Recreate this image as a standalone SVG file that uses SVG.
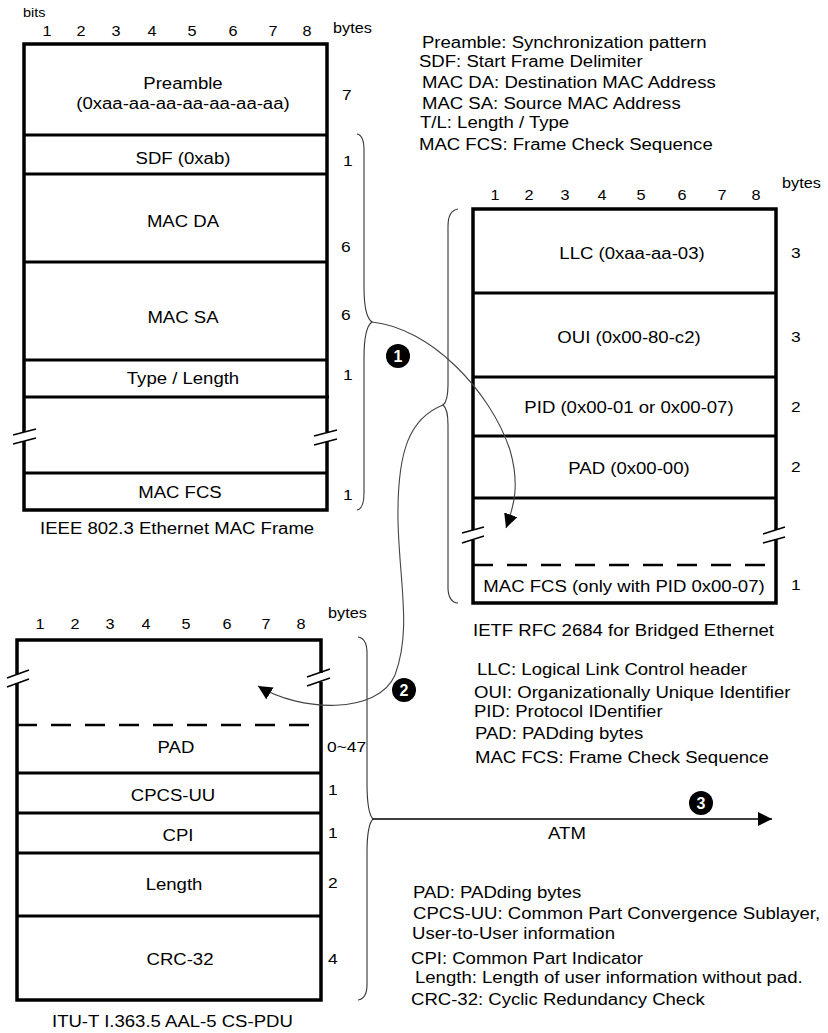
<svg xmlns="http://www.w3.org/2000/svg" width="828" height="1033" viewBox="0 0 828 1033">
<style>
  text { font-family: "Liberation Sans", Arial, sans-serif; fill: #000; transform-box: fill-box; transform: scaleX(1.16); transform-origin: left center; }
  .mid { text-anchor: middle; transform-origin: center; font-size: 16px; }
  .lbl { font-size: 16px; }
  .num { text-anchor: middle; transform-origin: center; font-size: 14px; }
  .cnt { font-size: 15px; }
  .unit { font-size: 14px; }
  .bits { font-size: 12.5px; }
  .badge-t { font-size: 16px; font-weight: bold; fill: #fff; text-anchor: middle; transform: none; }
  .outer { fill: none; stroke: #000; stroke-width: 3.5; stroke-linejoin: miter; }
  .row { fill: none; stroke: #000; stroke-width: 3; }
  .dash { fill: none; stroke: #000; stroke-width: 2.5; stroke-dasharray: 20 14; }
  .brk { fill: none; stroke: #000; stroke-width: 1.5; }
  .brace { fill: none; stroke: #333; stroke-width: 1.1; }
  .curve { fill: none; stroke: #444; stroke-width: 1.1; }
  .atm { fill: none; stroke: #000; stroke-width: 1.5; }
  .badge { fill: #000; }
</style>
<defs>
  <marker id="ah" viewBox="0 0 14 14" refX="14" refY="7" markerWidth="14" markerHeight="14" markerUnits="userSpaceOnUse" orient="auto">
    <path d="M0,0 L14,7 L0,14 z" fill="#000"/>
  </marker>
</defs>

<g id="frame-ieee">
  <text class="bits" x="23" y="17">bits</text>
  <text class="num" x="47" y="36">1</text>
  <text class="num" x="81" y="36">2</text>
  <text class="num" x="116" y="36">3</text>
  <text class="num" x="152" y="36">4</text>
  <text class="num" x="192" y="36">5</text>
  <text class="num" x="233" y="36">6</text>
  <text class="num" x="273" y="36">7</text>
  <text class="num" x="307" y="36">8</text>
  <text class="unit" x="333" y="33">bytes</text>
  <path class="outer" d="M24,432 V44 H327 V432 M327,442 V510 H24 V441"/>
  <path class="row" d="M24,135 H327 M24,174 H327 M24,262 H327 M24,360 H327 M24,397 H329 M24,473 H327"/>
  <path class="brk" d="M13,435 L36,429 M13,444 L36,438 M314,436 L337,430 M314,445 L337,439"/>
  <text class="mid" x="183" y="89">Preamble</text>
  <text class="mid" x="183" y="109">(0xaa-aa-aa-aa-aa-aa-aa)</text>
  <text class="mid" x="183" y="164">SDF (0xab)</text>
  <text class="mid" x="183" y="227">MAC DA</text>
  <text class="mid" x="183" y="323">MAC SA</text>
  <text class="mid" x="183" y="384">Type / Length</text>
  <text class="mid" x="180" y="498">MAC FCS</text>
  <text class="cnt" x="342" y="100">7</text>
  <text class="cnt" x="343" y="166">1</text>
  <text class="cnt" x="341" y="252">6</text>
  <text class="cnt" x="341" y="320">6</text>
  <text class="cnt" x="343" y="380">1</text>
  <text class="cnt" x="343" y="500">1</text>
  <text class="lbl" x="40" y="534">IEEE 802.3 Ethernet MAC Frame</text>
</g>

<g id="legend-ieee">
  <text class="lbl" x="422" y="48">Preamble: Synchronization pattern</text>
  <text class="lbl" x="419" y="67">SDF: Start Frame Delimiter</text>
  <text class="lbl" x="422" y="88">MAC DA: Destination MAC Address</text>
  <text class="lbl" x="422" y="109">MAC SA: Source MAC Address</text>
  <text class="lbl" x="420" y="128">T/L: Length / Type</text>
  <text class="lbl" x="419" y="150">MAC FCS: Frame Check Sequence</text>
</g>

<g id="frame-rfc2684">
  <text class="num" x="495" y="200">1</text>
  <text class="num" x="529" y="200">2</text>
  <text class="num" x="565" y="200">3</text>
  <text class="num" x="602" y="200">4</text>
  <text class="num" x="641" y="200">5</text>
  <text class="num" x="682" y="200">6</text>
  <text class="num" x="722" y="200">7</text>
  <text class="num" x="756" y="200">8</text>
  <text class="unit" x="782" y="188">bytes</text>
  <path class="outer" d="M473,530 V209 H776 V530 M776,539 V603 H473 V540"/>
  <path class="row" d="M473,293 H776 M473,377 H776 M473,436 H776 M473,498 H776"/>
  <path class="dash" d="M473,565 H776"/>
  <path class="brk" d="M462,533 L484,527 M462,543 L484,536 M763,534 L785,527 M763,543 L785,537"/>
  <text class="mid" x="632" y="259">LLC (0xaa-aa-03)</text>
  <text class="mid" x="629" y="343">OUI (0x00-80-c2)</text>
  <text class="mid" x="629" y="413">PID (0x00-01 or 0x00-07)</text>
  <text class="mid" x="629" y="474">PAD (0x00-00)</text>
  <text class="mid" x="624" y="592">MAC FCS (only with PID 0x00-07)</text>
  <text class="cnt" x="791" y="258">3</text>
  <text class="cnt" x="791" y="342">3</text>
  <text class="cnt" x="791" y="412">2</text>
  <text class="cnt" x="791" y="472">2</text>
  <text class="cnt" x="791" y="590">1</text>
  <text class="lbl" x="473" y="636">IETF RFC 2684 for Bridged Ethernet</text>
</g>

<g id="legend-rfc2684">
  <text class="lbl" x="477" y="675">LLC: Logical Link Control header</text>
  <text class="lbl" x="474" y="698">OUI: Organizationally Unique Identifier</text>
  <text class="lbl" x="474" y="717">PID: Protocol IDentifier</text>
  <text class="lbl" x="475" y="739">PAD: PADding bytes</text>
  <text class="lbl" x="475" y="763">MAC FCS: Frame Check Sequence</text>
</g>

<g id="frame-aal5">
  <text class="num" x="40" y="629">1</text>
  <text class="num" x="75" y="629">2</text>
  <text class="num" x="110" y="629">3</text>
  <text class="num" x="146" y="629">4</text>
  <text class="num" x="186" y="629">5</text>
  <text class="num" x="227" y="629">6</text>
  <text class="num" x="266" y="629">7</text>
  <text class="num" x="301" y="629">8</text>
  <text class="unit" x="328" y="618">bytes</text>
  <path class="outer" d="M17,674 V640 H321 V673 M321,682 V1000 H17 V683"/>
  <path class="dash" d="M17,725 H321"/>
  <path class="row" d="M17,773 H321 M17,813 H321 M17,853 H321 M17,916 H321"/>
  <path class="brk" d="M7,678 L29,670 M7,687 L29,679 M307,677 L330,669 M307,686 L330,678"/>
  <text class="mid" x="176" y="753">PAD</text>
  <text class="mid" x="173" y="801">CPCS-UU</text>
  <text class="mid" x="178" y="841">CPI</text>
  <text class="mid" x="174" y="890">Length</text>
  <text class="mid" x="180" y="965">CRC-32</text>
  <text class="cnt" x="327" y="752">0~47</text>
  <text class="cnt" x="328" y="795">1</text>
  <text class="cnt" x="328" y="838">1</text>
  <text class="cnt" x="328" y="888">2</text>
  <text class="cnt" x="328" y="964">4</text>
  <text class="lbl" x="52" y="1027">ITU-T I.363.5 AAL-5 CS-PDU</text>
</g>

<g id="legend-aal5">
  <text class="lbl" x="413" y="898">PAD: PADding bytes</text>
  <text class="lbl" x="413" y="919">CPCS-UU: Common Part Convergence Sublayer,</text>
  <text class="lbl" x="412" y="939">User-to-User information</text>
  <text class="lbl" x="411" y="964">CPI: Common Part Indicator</text>
  <text class="lbl" x="415" y="983">Length: Length of user information without pad.</text>
  <text class="lbl" x="411" y="1005">CRC-32: Cyclic Redundancy Check</text>
</g>

<g id="connectors">
  <path id="brace-ieee" class="brace" d="M357,134 C362,135 364,140 364,150 L364,287 C364,306 366,318 372,322 C366,326 364,338 364,358 L364,493 C364,503 362,509 357,510"/>
  <path id="brace-rfc2684" class="brace" d="M458,209 C452,210 448,216 448,226 L448,385 C448,396 447,402 443,405 C447,408 448,414 448,425 L448,588 C448,597 452,603 458,603"/>
  <path id="brace-aal5" class="brace" d="M358,637 C364,638 367,644 367,653 L367,783 C367,802 369,815 373,819 C369,823 367,836 367,853 L367,985 C367,994 364,999 358,1000"/>
  <path id="arrow-1" class="curve" marker-end="url(#ah)" d="M372,322 C430,328 490,390 510,450 C520,485 514,506 506,528"/>
  <path id="arrow-2" class="curve" marker-end="url(#ah)" d="M443,405 C410,418 397,450 398,520 C399,580 412,630 395,675 C378,715 300,712 258,686"/>
  <path id="arrow-atm" class="atm" marker-end="url(#ah)" d="M373,819 H772"/>
  <text class="mid" x="567" y="839">ATM</text>
</g>

<g id="badge-1">
  <circle class="badge" cx="398" cy="356" r="12"/>
  <text class="badge-t" x="398" y="362">1</text>
</g>
<g id="badge-2">
  <circle class="badge" cx="404" cy="690" r="12"/>
  <text class="badge-t" x="404" y="696">2</text>
</g>
<g id="badge-3">
  <circle class="badge" cx="701" cy="803" r="12"/>
  <text class="badge-t" x="701" y="809">3</text>
</g>
</svg>
